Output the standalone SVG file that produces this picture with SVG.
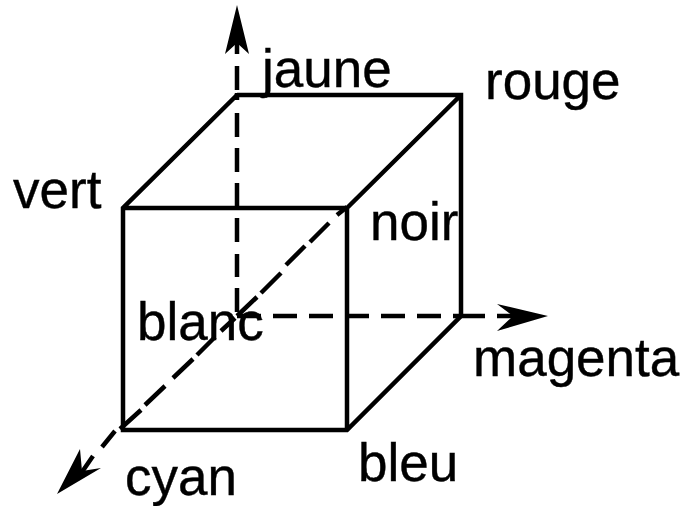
<svg xmlns="http://www.w3.org/2000/svg" width="683" height="506" viewBox="0 0 683 506">
<style>
.e{fill:none;stroke:#000;stroke-width:4.5;stroke-linecap:butt;stroke-linejoin:miter}
.h{fill:#000;stroke:none}
text{font-family:"Liberation Sans",Arial,sans-serif;font-size:53px;fill:#000;stroke:#000;stroke-width:.4}
</style>
<rect width="683" height="506" fill="#fff"/>
<g id="connectors">
<path class="e" d="M237 312V288M237 277V254M237 242V218M237 207V183M237 172V148M237 137V113M237 100V93M237 90V66M237 54V30"/>
<path class="e" d="M237 316H261M273 316H297M309 316H333M345 316H369M381 316H405M417 316H441M453 316H485M497 316H514"/>
<path class="e" d="M347 207L337 215M329 223L310 242M305 246L286 265M281 273L261 293M257 297L237 316M235 318L221 331M215 337L197 355M193 359L173 378M165 386L145 405M141 410L120 429M115 431L102 447M93 456L82 472"/>
<path class="e" d="M237 95H461V316L347 430H123V208L237 95M123 208H347V430M347 208L461 95"/>
<path class="h" d="M237 5L249 54L237 43L225 54Z"/>
<path class="h" d="M548 316L497 304L513 316L497 331Z"/>
<path class="h" d="M57 494L80 449L82 471L101 468Z"/>
</g>
<g id="jaune"><text x="262" y="87">jaune</text></g>
<g id="rouge"><text x="485" y="99">rouge</text></g>
<g id="vert"><text x="13" y="208">vert</text></g>
<g id="noir"><text x="370" y="240">noir</text></g>
<g id="blanc"><text x="137" y="340">blanc</text></g>
<g id="magenta"><text x="473" y="376">magenta</text></g>
<g id="bleu"><text x="358" y="481">bleu</text></g>
<g id="cyan"><text x="125" y="495">cyan</text></g>
</svg>
